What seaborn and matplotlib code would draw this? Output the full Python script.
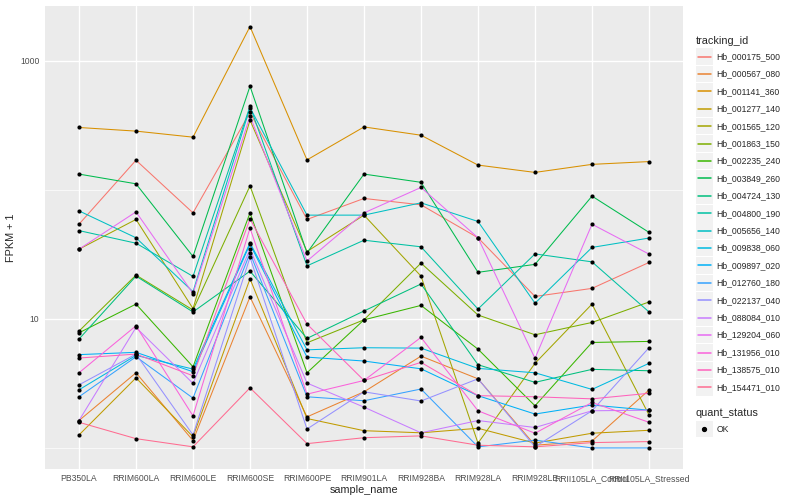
import numpy as np
import pandas as pd
import matplotlib
matplotlib.use("Agg")
import matplotlib.pyplot as plt
from matplotlib.lines import Line2D
from matplotlib.patches import Rectangle
from matplotlib.legend_handler import HandlerBase
from matplotlib.ticker import FixedLocator, FixedFormatter, NullFormatter
import seaborn as sns

# DATA (FPKM, plotted as FPKM + 1)
samples = ["PB350LA", "RRIM600LA", "RRIM600LE", "RRIM600SE", "RRIM600PE",
           "RRIM901LA", "RRIM928BA", "RRIM928LA", "RRIM928LE",
           "RRII105LA_Control", "RRII105LA_Stressed"]

tracking_ids = ["Hb_000175_500", "Hb_000567_080", "Hb_001141_360", "Hb_001277_140",
                "Hb_001565_120", "Hb_001863_150", "Hb_002235_240", "Hb_003849_260",
                "Hb_004724_130", "Hb_004800_190", "Hb_005656_140", "Hb_009838_060",
                "Hb_009897_020", "Hb_012760_180", "Hb_022137_040", "Hb_088084_010",
                "Hb_129204_060", "Hb_131956_010", "Hb_138575_010", "Hb_154471_010"]

hb_000175_500 = [53.0, 168, 65.1, 395, 57.8, 84.5, 75.3, 41.4, 13.9, 16.2, 26.3]
hb_000567_080 = [0.63, 2.82, 0.14, 13.8, 0.74, 1.72, 4.14, 2.43, 0.05, 0.13, 1.81]
hb_001141_360 = [302, 283, 254, 1831, 169, 305, 263, 154, 135, 156, 164]
hb_001277_140 = [0.26, 2.49, 0.22, 19.4, 0.69, 0.36, 0.31, 0.42, 0.09, 0.30, 0.37]
hb_001565_120 = [33.6, 57.8, 11.0, 344, 32.2, 62.5, 20.4, 0.09, 3.52, 12.0, 0.80]
hb_001863_150 = [7.03, 20.8, 10.7, 106, 5.52, 8.82, 26.0, 9.7, 6.52, 8.37, 12.5]
hb_002235_240 = [6.79, 12.0, 3.25, 65.1, 2.82, 8.82, 11.7, 4.82, 1.12, 5.56, 5.68]
hb_003849_260 = [131, 110, 29.4, 631, 31.4, 131, 113, 21.9, 25.4, 88.1, 45.7]
hb_004724_130 = [5.97, 20.4, 10.3, 22.4, 6.05, 10.5, 17.6, 3.41, 2.22, 3.06, 2.96]
hb_004800_190 = [47.2, 37.5, 20.3, 442, 24.7, 39.6, 35.1, 10.9, 30.8, 26.6, 10.3]
hb_005656_140 = [67.5, 41.4, 15.2, 431, 62.5, 62.5, 78.1, 55.7, 12.2, 34.7, 41.2]
hb_009838_060 = [1.82, 4.21, 3.08, 37.7, 4.75, 4.97, 4.93, 3.13, 2.82, 1.84, 3.52]
hb_009897_020 = [4.28, 4.50, 2.89, 36.8, 4.05, 3.71, 3.10, 1.54, 0.83, 1.15, 0.96]
hb_012760_180 = [1.49, 4.08, 1.43, 31.3, 1.49, 1.32, 1.86, 0.02, 0.15, 0.0, 0.0]
hb_022137_040 = [2.08, 4.33, 0.26, 28.9, 0.40, 1.72, 1.31, 2.43, 0.02, 0.94, 4.97]
hb_088084_010 = [0.63, 7.57, 2.16, 33.6, 2.18, 1.07, 0.31, 0.63, 0.44, 0.94, 0.96]
hb_129204_060 = [33.6, 66.3, 14.7, 370, 27.0, 65.1, 103, 41.4, 3.94, 53.0, 30.7]
hb_131956_010 = [2.82, 7.83, 0.77, 49.4, 1.61, 2.33, 6.18, 0.94, 0.30, 1.25, 0.58]
hb_138575_010 = [3.97, 4.33, 2.62, 58.4, 8.10, 2.33, 3.60, 1.54, 1.49, 1.40, 1.65]
hb_154471_010 = [0.58, 0.18, 0.02, 1.92, 0.08, 0.20, 0.24, 0.05, 0.02, 0.10, 0.12]

fpkm_rows = [hb_000175_500, hb_000567_080, hb_001141_360, hb_001277_140,
             hb_001565_120, hb_001863_150, hb_002235_240, hb_003849_260,
             hb_004724_130, hb_004800_190, hb_005656_140, hb_009838_060,
             hb_009897_020, hb_012760_180, hb_022137_040, hb_088084_010,
             hb_129204_060, hb_131956_010, hb_138575_010, hb_154471_010]

# ggplot hue palette for 20 groups
palette = ["#F8766D", "#EA8331", "#D89000", "#C09B00", "#A3A500", "#7CAE00",
           "#39B600", "#00BB4E", "#00BF7D", "#00C1A3", "#00BFC4", "#00BAE0",
           "#00B0F6", "#35A2FF", "#9590FF", "#C77CFF", "#E76BF3", "#FA62DB",
           "#FF62BC", "#FF6C91"]

rows = []
for tid, vals in zip(tracking_ids, fpkm_rows):
    for s, v in zip(samples, vals):
        rows.append((tid, s, v))
df = pd.DataFrame(rows, columns=["tracking_id", "sample_name", "fpkm"])
df["fpkm_plus1"] = df["fpkm"] + 1
df["quant_status"] = "OK"


class KeyHandler(HandlerBase):
    """ggplot-like legend key: grey square with a line or a point."""
    def create_artists(self, legend, orig_handle, xdescent, ydescent,
                       width, height, fontsize, trans):
        x0, y0 = -xdescent, -ydescent
        bg = Rectangle((x0, y0), width, height, facecolor="#F2F2F2",
                       edgecolor="none", transform=trans)
        if orig_handle.get_marker() == "o":
            art = Line2D([x0 + width / 2], [y0 + height / 2], marker="o",
                         ms=2.8, color="black", ls="none", transform=trans)
        else:
            art = Line2D([x0 + 0.1 * width, x0 + 0.9 * width],
                         [y0 + height / 2] * 2, color=orig_handle.get_color(),
                         lw=1.1, transform=trans)
        return [bg, art]


sns.set_style("darkgrid", {"axes.facecolor": "#EBEBEB", "grid.color": "white"})
plt.rcParams["font.family"] = ["Liberation Sans", "DejaVu Sans"]

fig, ax = plt.subplots(figsize=(8, 5), dpi=100)
fig.subplots_adjust(left=0.056, right=0.854, bottom=0.062, top=0.989)

sns.lineplot(data=df, x="sample_name", y="fpkm_plus1", hue="tracking_id",
             hue_order=tracking_ids, palette=palette, sort=False,
             estimator=None, lw=0.75, legend=False, ax=ax)
sns.scatterplot(data=df, x="sample_name", y="fpkm_plus1", color="black",
                s=9, linewidth=0, legend=False, ax=ax, zorder=3)

ax.set_yscale("log")
ax.set_xlim(-0.6, len(samples) - 0.4)
ax.set_ylim(0.687, 2667)
ax.yaxis.set_major_locator(FixedLocator([10, 1000]))
ax.yaxis.set_major_formatter(FixedFormatter(["10", "1000"]))
ax.yaxis.set_minor_locator(FixedLocator([1, 100]))
ax.yaxis.set_minor_formatter(NullFormatter())

ax.grid(which="major", color="white", lw=1.0)
ax.grid(which="minor", axis="y", color="white", lw=0.5)
ax.set_axisbelow(True)
for sp in ax.spines.values():
    sp.set_visible(False)

ax.tick_params(which="major", length=2.75, width=0.6, color="#333333",
               labelcolor="#4D4D4D", labelsize=6.2, pad=1.2)
ax.tick_params(which="minor", length=0)
ax.set_xlabel("sample_name", fontsize=7.8, labelpad=1)
ax.set_ylabel("FPKM + 1", fontsize=7.8, labelpad=2.5)

# legends (ggplot-style keys)
leg_kw = dict(loc="upper left", frameon=False, fontsize=6.2, title_fontsize=7.8,
              handlelength=1.92, handleheight=2.595, labelspacing=0.09,
              handletextpad=0.43, borderpad=0, borderaxespad=0,
              alignment="left", handler_map={Line2D: KeyHandler()})
line_handles = [Line2D([], [], color=c) for c in palette]
leg1 = fig.legend(line_handles, tracking_ids, title="tracking_id",
                  bbox_to_anchor=(696 / 800, 1 - 36 / 500), **leg_kw)
pt_handle = [Line2D([], [], marker="o", color="black", ls="none")]
leg2 = fig.legend(pt_handle, ["OK"], title="quant_status",
                  bbox_to_anchor=(696 / 800, 1 - 408.5 / 500), **leg_kw)
for leg in (leg1, leg2):
    leg._legend_box.sep = 1.6  # gap between title and keys, in points

fig.savefig("out.png", dpi=100)
plt.close(fig)
